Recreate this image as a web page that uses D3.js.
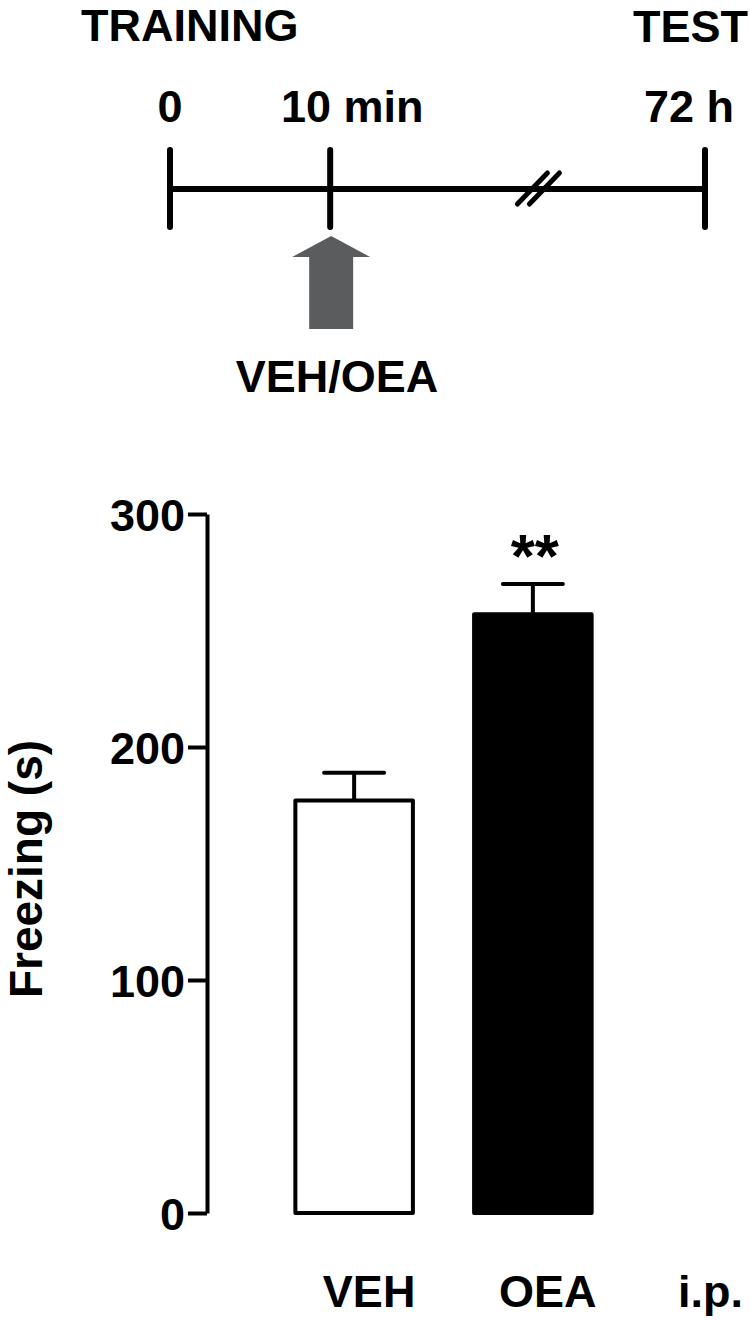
<!DOCTYPE html>
<html>
<head>
<meta charset="utf-8">
<script src="https://cdn.jsdelivr.net/npm/d3@7"></script>
<style>
  body { margin: 0; background: #fff; }
  svg text { font-family: "Liberation Sans", Arial, sans-serif; font-weight: bold; fill: #000; }
</style>
</head>
<body>
<div id="chart"></div>
<script>
// timeline (display units, axis is broken between 10 min and 72 h)
const stepNames = ["0", "10 min", "72 h"];
const stepPos = [0, 1, 3.34];
const breakPos = 2.3;
const phaseNames = ["TRAINING", "TEST"];
const injectionName = "VEH/OEA";

// bar chart
const groups = ["VEH", "OEA"];
const means = [177, 257];
const sems = [12, 13];
const yTicks = [0, 100, 200, 300];
const stars = ["", "**"];
const routeName = "i.p.";
const yLabel = "Freezing (s)";

const width = 750, height = 1320;
const svg = d3.select("#chart")
    .append("svg")
    .attr("width", width)
    .attr("height", height);

// ---- timeline ----
const xt = d3.scaleLinear().domain([0, 3.34]).range([170, 705]);
const lineY = 189;
const tl = svg.append("g");

tl.append("line")
    .attr("x1", xt(0)).attr("x2", xt(3.34))
    .attr("y1", lineY).attr("y2", lineY)
    .attr("stroke", "#000").attr("stroke-width", 6);

tl.selectAll(".step")
    .data(stepPos)
    .enter().append("line")
    .attr("class", "step")
    .attr("x1", d => xt(d)).attr("x2", d => xt(d))
    .attr("y1", 150).attr("y2", 227)
    .attr("stroke", "#000").attr("stroke-width", 6)
    .attr("stroke-linecap", "round");

const labelShift = [0, 22, -16];
tl.selectAll(".step-label")
    .data(stepNames)
    .enter().append("text")
    .attr("class", "step-label")
    .attr("x", (d, i) => xt(stepPos[i]) + labelShift[i])
    .attr("y", 122)
    .attr("text-anchor", "middle")
    .style("font-size", "45px")
    .text(d => d);

// break mark
tl.selectAll(".brk")
    .data([-6, 6])
    .enter().append("line")
    .attr("class", "brk")
    .attr("x1", d => xt(breakPos) + d - 15).attr("y1", lineY + 15)
    .attr("x2", d => xt(breakPos) + d + 15).attr("y2", lineY - 16)
    .attr("stroke", "#000").attr("stroke-width", 5)
    .attr("stroke-linecap", "round");

tl.append("text")
    .attr("x", 81).attr("y", 41)
    .style("font-size", "45px")
    .text(phaseNames[0]);

tl.append("text")
    .attr("x", 748).attr("y", 42)
    .attr("text-anchor", "end")
    .style("font-size", "45px")
    .text(phaseNames[1]);

// injection arrow
const ax = xt(stepPos[1]) + 1;
tl.append("path")
    .attr("d", `M${ax},236 L${ax + 39},257 L${ax + 22},257 L${ax + 22},329 L${ax - 22},329 L${ax - 22},257 L${ax - 39},257 Z`)
    .attr("fill", "#5b5c5e");

tl.append("text")
    .attr("x", 337).attr("y", 392)
    .attr("text-anchor", "middle")
    .style("font-size", "45px")
    .text(injectionName);

// ---- bar chart ----
const x = d3.scaleBand()
    .domain(groups)
    .range([204, 683])
    .paddingInner(0.32)
    .paddingOuter(0.5);

const y = d3.scaleLinear()
    .domain([0, 300])
    .range([1213, 514]);

const g = svg.append("g");

const yAxis = g.append("g")
    .attr("transform", "translate(207,0)")
    .call(d3.axisLeft(y).tickValues(yTicks).tickSize(19).tickSizeOuter(0).tickPadding(3));

yAxis.select(".domain").attr("stroke", "#000").attr("stroke-width", 4);
yAxis.selectAll(".tick line").attr("stroke", "#000").attr("stroke-width", 4);
yAxis.selectAll(".tick text")
    .attr("dy", "0.36em")
    .style("font-size", "45px")
    .style("font-family", '"Liberation Sans", Arial, sans-serif')
    .style("font-weight", "bold");

const bars = g.selectAll(".bar")
    .data(groups)
    .enter().append("g")
    .attr("class", "bar");

// error bars (upper only)
bars.append("line")
    .attr("x1", d => x(d) + x.bandwidth() / 2)
    .attr("x2", d => x(d) + x.bandwidth() / 2)
    .attr("y1", (d, i) => y(means[i]))
    .attr("y2", (d, i) => y(means[i] + sems[i]))
    .attr("stroke", "#000").attr("stroke-width", 4);

bars.append("line")
    .attr("x1", d => x(d) + x.bandwidth() / 2 - 30)
    .attr("x2", d => x(d) + x.bandwidth() / 2 + 30)
    .attr("y1", (d, i) => y(means[i] + sems[i]))
    .attr("y2", (d, i) => y(means[i] + sems[i]))
    .attr("stroke", "#000").attr("stroke-width", 4)
    .attr("stroke-linecap", "round");

bars.append("rect")
    .attr("x", d => x(d) + 2)
    .attr("width", x.bandwidth() - 4)
    .attr("y", (d, i) => y(means[i]))
    .attr("height", (d, i) => y(0) - y(means[i]))
    .attr("fill", (d, i) => i === 0 ? "#fff" : "#000")
    .attr("stroke", "#000").attr("stroke-width", 4)
    .attr("stroke-linejoin", "round");

bars.append("text")
    .attr("x", d => x(d) + x.bandwidth() / 2 + 2)
    .attr("y", (d, i) => y(means[i] + sems[i]) - 7)
    .attr("text-anchor", "middle")
    .style("font-size", "62px")
    .text((d, i) => stars[i]);

// category labels
g.selectAll(".cat")
    .data(groups)
    .enter().append("text")
    .attr("class", "cat")
    .attr("x", d => x(d) + x.bandwidth() / 2 + 15)
    .attr("y", 1307)
    .attr("text-anchor", "middle")
    .style("font-size", "45px")
    .text(d => d);

g.append("text")
    .attr("x", 743).attr("y", 1307)
    .attr("text-anchor", "end")
    .style("font-size", "45px")
    .text(routeName);

g.append("text")
    .attr("transform", "translate(42,869) rotate(-90)")
    .attr("text-anchor", "middle")
    .style("font-size", "46px")
    .text(yLabel);
</script>
</body>
</html>
